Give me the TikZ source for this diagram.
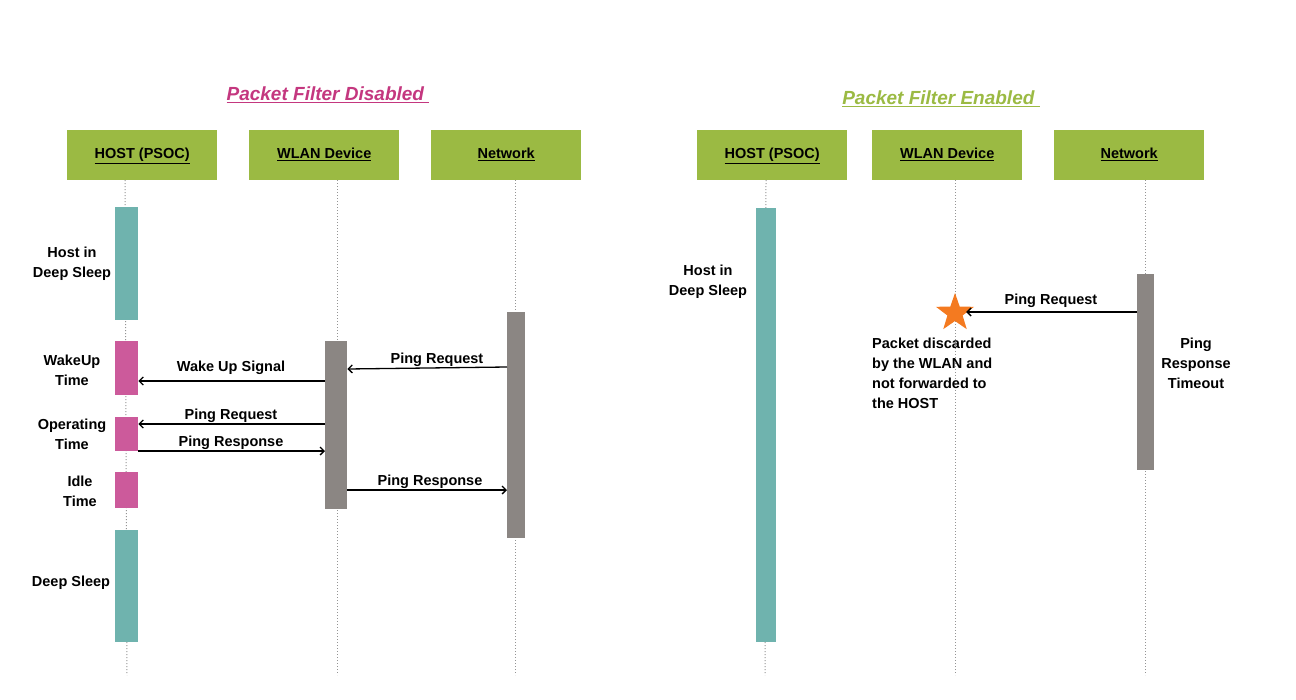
\documentclass[tikz,border=0pt]{standalone}
\usepackage{fontspec}
\setmainfont{Liberation Sans}
\usetikzlibrary{shapes.geometric,arrows.meta}
\definecolor{hdrgreen}{HTML}{9BBA43}
\definecolor{tealbar}{HTML}{6FB3AE}
\definecolor{pinkbar}{HTML}{CC5A9B}
\definecolor{graybar}{HTML}{8B8683}
\definecolor{titlepink}{HTML}{C4377F}
\definecolor{starorange}{HTML}{F47A20}
\definecolor{lifegray}{HTML}{949494}
\begin{document}
\begin{tikzpicture}[x=1pt,y=-1pt,
  every node/.style={font=\fontsize{14.5}{20}\selectfont\bfseries},
  hdr/.style={fill=hdrgreen, minimum width=150pt, minimum height=50pt, anchor=north west, inner sep=0pt, text height=11pt, text depth=4pt},
  bar/.style={anchor=north west, inner sep=0pt, draw=none},
  life/.style={lifegray, line width=1pt, dash pattern=on 1pt off 2pt},
  msg/.style={line width=1.3pt, -{Straight Barb[length=4pt,width=8pt]}},
  lbl/.style={align=center, inner sep=0pt},
  ttl/.style={font=\fontsize{19}{24}\selectfont\bfseries\itshape, inner sep=0pt}
]
\useasboundingbox (0,0) rectangle (1296,699);
% titles
\node[ttl, text=titlepink] (t1) at (328,95) {\underline{Packet Filter Disabled\ }};
\node[ttl, text=hdrgreen] (t2) at (941,99) {\underline{Packet Filter Enabled\ }};
% headers left
\node[hdr] (h1) at (67,130) {\underline{HOST (PSOC)}};
\node[hdr] (w1) at (249,130) {\underline{WLAN Device}};
\node[hdr] (n1) at (431,130) {\underline{Network}};
% headers right
\node[hdr] (h2) at (697,130) {\underline{HOST (PSOC)}};
\node[hdr] (w2) at (872,130) {\underline{WLAN Device}};
\node[hdr] (n2) at (1054,130) {\underline{Network}};
% lifeline coordinates
\coordinate (lh1t) at (125,180); \coordinate (lh1b) at (127,675);
\coordinate (lw1t) at (337,180); \coordinate (lw1b) at (337,675);
\coordinate (ln1t) at (515,180); \coordinate (ln1b) at (515,675);
\coordinate (lh2t) at (766,180); \coordinate (lh2b) at (765,675);
\coordinate (lw2t) at (955,180); \coordinate (lw2b) at (955,675);
\coordinate (ln2t) at (1145,180); \coordinate (ln2b) at (1145,675);
\draw[life] (lh1t) -- (lh1b);
\draw[life] (lw1t) -- (lw1b);
\draw[life] (ln1t) -- (ln1b);
\draw[life] (lh2t) -- (lh2b);
\draw[life] (lw2t) -- (lw2b);
\draw[life] (ln2t) -- (ln2b);
% left bars
\node[bar, fill=tealbar, minimum width=23pt, minimum height=113pt] (hs1) at (115,207) {};
\node[bar, fill=pinkbar, minimum width=23pt, minimum height=54pt] (hwk) at (115,341) {};
\node[bar, fill=pinkbar, minimum width=23pt, minimum height=34pt] (hop) at (115,417) {};
\node[bar, fill=pinkbar, minimum width=23pt, minimum height=36pt] (hid) at (115,472) {};
\node[bar, fill=tealbar, minimum width=23pt, minimum height=112pt] (hs2) at (115,530) {};
\node[bar, fill=graybar, minimum width=22pt, minimum height=168pt] (wb1) at (325,341) {};
\node[bar, fill=graybar, minimum width=18pt, minimum height=226pt] (nb1) at (507,312) {};
% right bars
\node[bar, fill=tealbar, minimum width=20pt, minimum height=434pt] (hs3) at (756,208) {};
\node[bar, fill=graybar, minimum width=17pt, minimum height=196pt] (nb2) at (1137,274) {};
% left labels
\node[lbl] (lb1) at (72,264) {Host in\\Deep Sleep};
\node[lbl] (lb2) at (72,370) {WakeUp\\Time};
\node[lbl] (lb3) at (72,434) {Operating\\Time};
\node[lbl] (lb4) at (80,491) {Idle\\Time};
\node[lbl] (lb5) at (71,583) {Deep Sleep};
% message y coordinates
\coordinate (ya) at (0,381);
\coordinate (yb) at (0,424);
\coordinate (yc) at (0,451);
\coordinate (yd) at (0,490);
\coordinate (ye1) at (0,367);
\coordinate (ye2) at (0,369);
\coordinate (yf) at (0,312);
% left messages
\draw[msg] (wb1.west |- ya) -- (hwk.east |- ya);
\node[lbl] (m1) at (231,368) {Wake Up Signal};
\draw[msg] (wb1.west |- yb) -- (hop.east |- yb);
\node[lbl] (m2) at (231,416) {Ping Request};
\draw[msg] (hop.east |- yc) -- (wb1.west |- yc);
\node[lbl] (m3) at (231,443) {Ping Response};
\draw[msg] (nb1.west |- ye1) -- (wb1.east |- ye2);
\node[lbl] (m4) at (437,360) {Ping Request};
\draw[msg] (wb1.east |- yd) -- (nb1.west |- yd);
\node[lbl] (m5) at (430,482) {Ping Response};
% right side
\node[lbl] (rb1) at (708,282) {Host in\\Deep Sleep};
\node[star, star points=5, star point ratio=2.5, minimum size=40pt, inner sep=0pt, fill=starorange] (st) at (955,313) {};
\draw[msg] (nb2.west |- yf) -- (st.east |- yf);
\node[lbl] (m6) at (1051,301) {Ping Request};
\node[align=left, inner sep=0pt, anchor=north west] (disc) at (872,338) {Packet discarded\\by the WLAN and\\not forwarded to\\the HOST};
\node[lbl] (tmo) at (1196,363) {Ping\\Response\\Timeout};
\end{tikzpicture}
\end{document}
